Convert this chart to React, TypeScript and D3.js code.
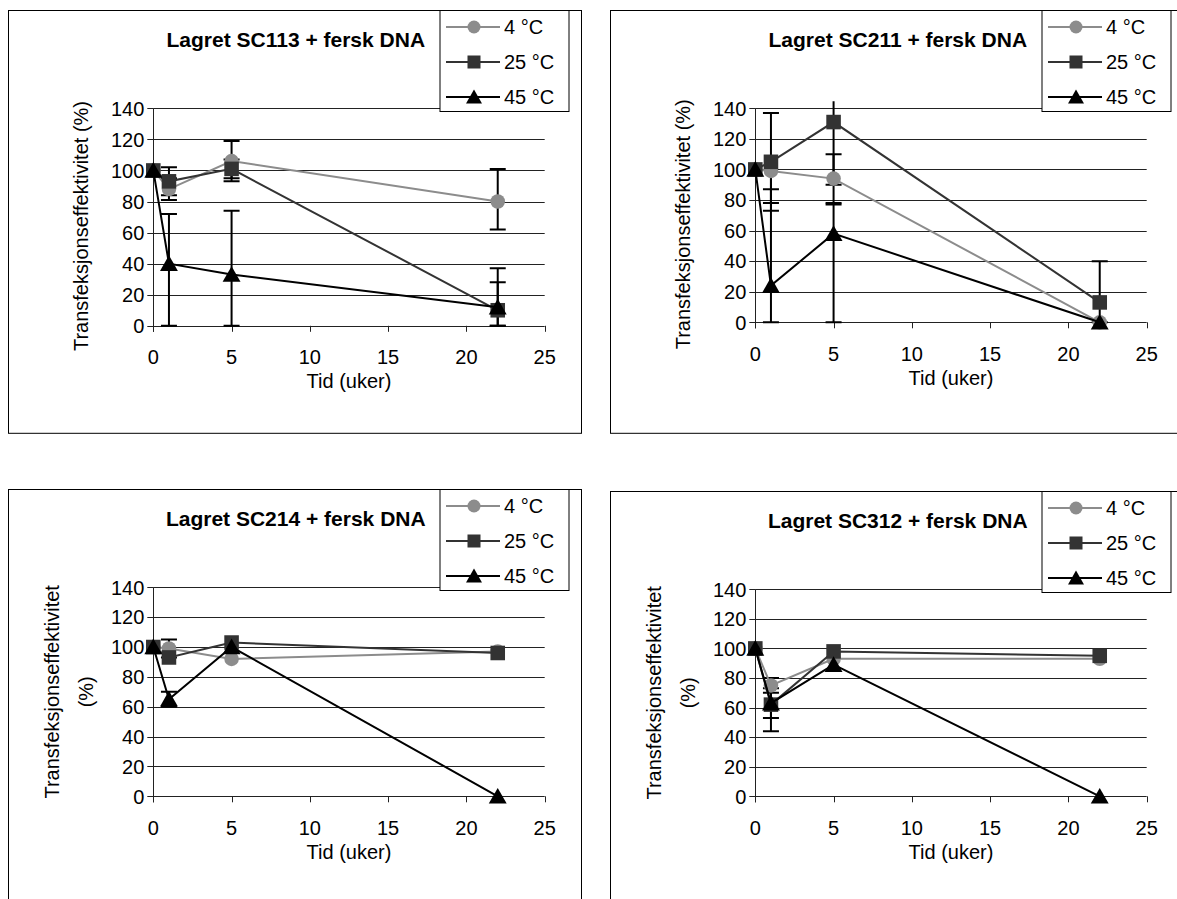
import React from 'react';
import * as d3 from 'd3';

// time points (weeks)
const weeks = [0, 1, 5, 22];
const seriesNames = ['4 °C', '25 °C', '45 °C'];
const titles = [
  'Lagret SC113 + fersk DNA',
  'Lagret SC211 + fersk DNA',
  'Lagret SC214 + fersk DNA',
  'Lagret SC312 + fersk DNA',
];
const xTicks = [0, 5, 10, 15, 20, 25];
const yTicks = [0, 20, 40, 60, 80, 100, 120, 140];

// values per panel, one array per temperature
const sc113 = [
  [100, 88, 106, 80],
  [100, 93, 101, 10],
  [100, 40, 33, 12],
];
const sc211 = [
  [100, 99, 94, 0],
  [100, 105, 131, 13],
  [100, 24, 58, 0],
];
const sc214 = [
  [100, 99, 92, 97],
  [100, 93, 103, 96],
  [100, 65, 100, 0],
];
const sc312 = [
  [100, 75, 93, 93],
  [100, 62, 98, 95],
  [100, 63, 89, 0],
];

// error bars [minus, plus] per point
const sc113Err = [
  [[0, 0], [7, 7], [13, 13], [18, 21]],
  [[0, 0], [9, 9], [6, 6], [10, 18]],
  [[0, 0], [40, 32], [33, 41], [12, 25]],
];
const sc211Err = [
  [[0, 0], [21, 0], [16, 16], [0, 0]],
  [[0, 0], [32, 32], [41, 41], [13, 27]],
  [[0, 0], [24, 63], [58, 19], [0, 0]],
];
const sc214Err = [
  [[0, 0], [6, 6], [0, 0], [0, 0]],
  [[0, 0], [0, 0], [0, 0], [0, 0]],
  [[0, 0], [5, 5], [0, 0], [0, 0]],
];
const sc312Err = [
  [[0, 0], [5, 5], [0, 0], [0, 0]],
  [[0, 0], [18, 18], [0, 0], [0, 0]],
  [[0, 0], [10, 10], [0, 0], [0, 0]],
];

const colors = ['#8c8c8c', '#333333', '#000000'];
const FONT = '"Liberation Sans", Arial, sans-serif';

const panels = [
  { title: titles[0], values: sc113, errs: sc113Err, fx: 8.5, fy: 10.5, fw: 573, ph: 217.5, twoLine: false },
  { title: titles[1], values: sc211, errs: sc211Err, fx: 610.5, fy: 10.5, fw: 800, ph: 214, twoLine: false },
  { title: titles[2], values: sc214, errs: sc214Err, fx: 8.5, fy: 489.5, fw: 573, ph: 209, twoLine: true },
  { title: titles[3], values: sc312, errs: sc312Err, fx: 610.5, fy: 491.5, fw: 800, ph: 207, twoLine: true },
];

function Marker({ kind, x, y, color, s = 1 }: { kind: number; x: number; y: number; color: string; s?: number }) {
  if (kind === 0) return <circle cx={x} cy={y} r={6.5 * s} fill={color} />;
  if (kind === 1) return <rect x={x - 6.5 * s} y={y - 6.5 * s} width={13 * s} height={13 * s} fill={color} />;
  return <path d={`M${x},${y - 7.5 * s}L${x + 8 * s},${y + 6.5 * s}L${x - 8 * s},${y + 6.5 * s}Z`} fill={color} />;
}

function Panel({ p, idx }: { p: any; idx: number }) {
  const left = p.fx + 144.8;
  const top = p.fy + 97.8;
  const pw = 391.4;
  const x = d3.scaleLinear().domain([0, 25]).range([left, left + pw]);
  const y = d3.scaleLinear().domain([0, 140]).range([top + p.ph, top]);
  const line = d3.line<number>().x((_, i) => x(weeks[i])).y((d) => y(d));
  const clipId = `clip${idx}`;
  const lx = p.fx + 431.5;
  const ly = p.fy;
  const yMid = (y(0) + y(140)) / 2;
  return (
    <g>
      <rect x={p.fx} y={p.fy} width={p.fw} height={422.8} fill="#fff" stroke="#000" strokeWidth={1} />
      <clipPath id={clipId}>
        <rect x={left - 20} y={top - 7} width={pw + 40} height={p.ph + 9} />
      </clipPath>
      {/* grid */}
      {yTicks.map((t) => (
        <g key={t}>
          <line x1={left} x2={left + pw} y1={Math.round(y(t)) + 0.5} y2={Math.round(y(t)) + 0.5} stroke="#222" />
          <line x1={left - 6} x2={left} y1={Math.round(y(t)) + 0.5} y2={Math.round(y(t)) + 0.5} stroke="#222" />
          <text x={left - 9} y={y(t)} dy="0.36em" textAnchor="end" fontSize={20} fontFamily={FONT} fill="#000">{t}</text>
        </g>
      ))}
      <line x1={Math.round(left) + 0.5} x2={Math.round(left) + 0.5} y1={top} y2={y(0) + 6} stroke="#222" />
      {xTicks.map((t) => (
        <g key={t}>
          <line x1={Math.round(x(t)) + 0.5} x2={Math.round(x(t)) + 0.5} y1={y(0)} y2={y(0) + 6} stroke="#222" />
          <text x={x(t)} y={y(0) + 31} dy="0.36em" textAnchor="middle" fontSize={20} fontFamily={FONT}>{t}</text>
        </g>
      ))}
      <text x={x(12.5)} y={y(0) + 55} dy="0.36em" textAnchor="middle" fontSize={20} fontFamily={FONT}>Tid (uker)</text>
      {p.twoLine ? (
        <>
          <text transform={`translate(${p.fx + 43.5},${yMid}) rotate(-90)`} dy="0.36em" textAnchor="middle" fontSize={20} fontFamily={FONT}>Transfeksjonseffektivitet</text>
          <text transform={`translate(${p.fx + 77},${yMid}) rotate(-90)`} dy="0.36em" textAnchor="middle" fontSize={20} fontFamily={FONT}>(%)</text>
        </>
      ) : (
        <text transform={`translate(${p.fx + 72},${yMid + 9}) rotate(-90)`} dy="0.36em" textAnchor="middle" fontSize={20} fontFamily={FONT}>Transfeksjonseffektivitet (%)</text>
      )}
      {/* error bars */}
      <g clipPath={`url(#${clipId})`}>
        {p.errs.map((se: number[][], s: number) =>
          se.map((e: number[], i: number) => {
            if (e[0] === 0 && e[1] === 0) return null;
            const v = p.values[s][i];
            const cx = x(weeks[i]);
            const lo = y(v - e[0]);
            const hi = y(v + e[1]);
            return (
              <g key={`${s}-${i}`} stroke="#000" strokeWidth={2}>
                <line x1={cx} x2={cx} y1={lo} y2={hi} />
                {e[0] > 0 && <line x1={cx - 8} x2={cx + 8} y1={lo} y2={lo} />}
                {e[1] > 0 && <line x1={cx - 8} x2={cx + 8} y1={hi} y2={hi} />}
              </g>
            );
          })
        )}
      </g>
      {/* series */}
      {p.values.map((vals: number[], s: number) => (
        <g key={s}>
          <path d={line(vals) as string} fill="none" stroke={colors[s]} strokeWidth={2} />
          {vals.map((v, i) => (
            <Marker key={i} kind={s} x={x(weeks[i])} y={y(v)} color={colors[s]} s={1.12} />
          ))}
        </g>
      ))}
      <text x={p.fx + 287.3} y={p.fy + 36} textAnchor="middle" fontSize={21} fontWeight="bold" fontFamily={FONT}>{p.title}</text>
      {/* legend */}
      <rect x={lx} y={ly} width={129} height={101} fill="#fff" stroke="#000" />
      {seriesNames.map((n, s) => {
        const ry = ly + 16.5 + s * 35;
        return (
          <g key={n}>
            <line x1={lx + 6} x2={lx + 60} y1={ry} y2={ry} stroke={colors[s]} strokeWidth={2} />
            <Marker kind={s} x={lx + 34} y={ry} color={colors[s]} />
            <text x={lx + 64} y={ry} dy="0.36em" fontSize={20} fontFamily={FONT}>{n}</text>
          </g>
        );
      })}
    </g>
  );
}

export default function App() {
  return (
    <svg width={1177} height={899} style={{ position: 'absolute', left: 0, top: 0, background: '#fff' }}>
      <rect width={1177} height={899} fill="#fff" />
      {panels.map((p, i) => (
        <Panel key={i} p={p} idx={i} />
      ))}
    </svg>
  );
}
